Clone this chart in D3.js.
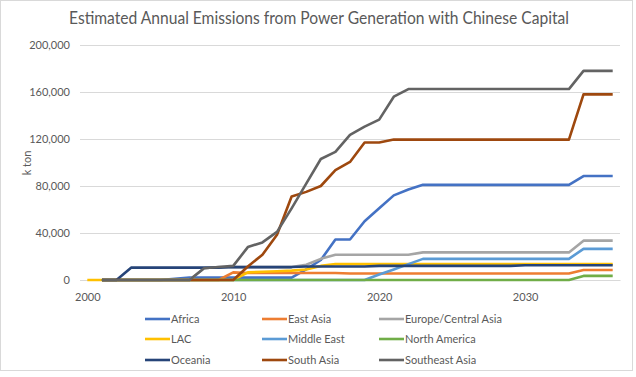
<!DOCTYPE html>
<html>
<head>
<meta charset="utf-8">
<script src="https://cdn.jsdelivr.net/npm/d3@7"></script>
<style>
  body { margin: 0; background: #fff; }
  text { font-family: Lato, "Open Sans", sans-serif; fill: #595959; }
</style>
</head>
<body>
<div class="container"></div>
<script>
// years on the category axis
const years = [2000, 2001, 2002, 2003, 2004, 2005, 2006, 2007, 2008, 2009,
  2010, 2011, 2012, 2013, 2014, 2015, 2016, 2017, 2018, 2019,
  2020, 2021, 2022, 2023, 2024, 2025, 2026, 2027, 2028, 2029,
  2030, 2031, 2032, 2033, 2034, 2035, 2036];
const xTickLabels = [2000, 2010, 2020, 2030];
const yTicks = [0, 40000, 80000, 120000, 160000, 200000];

const regions = ["Africa", "East Asia", "Europe/Central Asia", "LAC", "Middle East",
  "North America", "Oceania", "South Asia", "Southeast Asia"];
const colors = ["#4472C4", "#ED7D31", "#A5A5A5", "#FFC000", "#5B9BD5",
  "#70AD47", "#264478", "#9E480E", "#636363"];

// k ton per year, 2000..2036
const africa = [null, 0, 0, 0, 0, 0, 1000, 2000, 2000, 2000,
  2000, 2000, 2000, 2000, 2000, 9000, 17000, 34500, 34500, 50000,
  61000, 72000, 77000, 81000, 81000, 81000, 81000, 81000, 81000, 81000,
  81000, 81000, 81000, 81000, 88500, 88500, 88500];
const eastAsia = [null, 0, 0, 0, 0, 0, 0, 0, 0, 0,
  6500, 6000, 6000, 6000, 6000, 6000, 6000, 6000, 5500, 5500,
  5500, 5500, 5500, 5500, 5500, 5500, 5500, 5500, 5500, 5500,
  5500, 5500, 5500, 5500, 8500, 8500, 8500];
const europe = [null, 0, 0, 0, 0, 0, 0, 0, 10000, 11000,
  11000, 11000, 11000, 11000, 11000, 13000, 18000, 21500, 21500, 21500,
  21500, 21500, 21500, 23500, 23500, 23500, 23500, 23500, 23500, 23500,
  23500, 23500, 23500, 23500, 33500, 33500, 33500];
const lac = [0, 0, 0, 0, 0, 0, 0, 0, 0, 0,
  0, 6500, 7000, 7500, 8000, 9000, 12000, 13500, 13500, 13500,
  13500, 13500, 13500, 13500, 13500, 13500, 13500, 13500, 13500, 13500,
  13500, 13500, 13500, 13500, 13500, 13500, 13500];
const middleEast = [null, 0, 0, 0, 0, 0, 0, 0, 0, 0,
  0, 0, 0, 0, 0, 0, 0, 0, 0, 0,
  4700, 9000, 13500, 18000, 18000, 18000, 18000, 18000, 18000, 18000,
  18000, 18000, 18000, 18000, 26500, 26500, 26500];
const northAmerica = [null, 0, 0, 0, 0, 0, 0, 0, 0, 0,
  0, 0, 0, 0, 0, 0, 0, 0, 0, 0,
  0, 0, 0, 0, 0, 0, 0, 0, 0, 0,
  0, 0, 0, 0, 3500, 3500, 3500];
const oceania = [null, 0, 0, 10500, 10500, 10500, 10500, 10500, 10500, 10500,
  11000, 11000, 11000, 11000, 11000, 11500, 11500, 11500, 11500, 11500,
  12000, 12000, 12000, 12000, 12000, 12000, 12000, 12000, 12000, 12000,
  12500, 12500, 12500, 12500, 12500, 12500, 12500];
const southAsia = [null, 0, 0, 0, 0, 0, 0, 0, 0, 0,
  0, 11500, 21500, 38500, 71000, 75000, 80000, 93500, 100500, 117000,
  117000, 119500, 119500, 119500, 119500, 119500, 119500, 119500, 119500, 119500,
  119500, 119500, 119500, 119500, 158000, 158000, 158000];
const southeastAsia = [null, 0, 0, 0, 0, 0, 0, 0, 10000, 11000,
  12000, 28000, 32000, 41000, 61000, 82000, 103000, 109000, 123500, 130500,
  136500, 156000, 162500, 162500, 162500, 162500, 162500, 162500, 162500, 162500,
  162500, 162500, 162500, 162500, 178000, 178000, 178000];

const seriesValues = [africa, eastAsia, europe, lac, middleEast,
  northAmerica, oceania, southAsia, southeastAsia];

const W = 636, H = 377;
const plot = { left: 80, right: 620, top: 45, bottom: 280 };

const svg = d3
  .select(".container")
  .append("svg")
  .attr("width", W)
  .attr("height", H);

// chart border
svg.append("rect")
  .attr("x", 0.5).attr("y", 0.5)
  .attr("width", 632).attr("height", 370)
  .attr("fill", "#fff")
  .attr("stroke", "#d9d9d9");

const xScale = d3.scalePoint()
  .domain(years)
  .range([plot.left, plot.right])
  .padding(0.5);

const yScale = d3.scaleLinear()
  .domain([0, 200000])
  .range([plot.bottom, plot.top]);

// title
svg.append("text")
  .attr("x", 319)
  .attr("y", 24)
  .attr("text-anchor", "middle")
  .attr("textLength", 500)
  .attr("lengthAdjust", "spacingAndGlyphs")
  .style("font-size", "17px")
  .text("Estimated Annual Emissions from Power Generation with Chinese Capital");

// gridlines + y labels
const yAxis = d3.axisLeft(yScale)
  .tickValues(yTicks)
  .tickSize(-(plot.right - plot.left))
  .tickPadding(10)
  .tickFormat(d3.format(","));

svg.append("g")
  .attr("transform", `translate(${plot.left},0)`)
  .call(yAxis)
  .call((g) => g.select(".domain").remove())
  .call((g) => g.selectAll("line").attr("stroke", "#d9d9d9"))
  .call((g) => g.selectAll("text").style("font-size", "11px").attr("fill", "#595959"));

// x axis labels
const xAxis = d3.axisBottom(xScale)
  .tickValues(xTickLabels)
  .tickSize(0)
  .tickPadding(13);

svg.append("g")
  .attr("transform", `translate(0,${plot.bottom})`)
  .call(xAxis)
  .call((g) => g.select(".domain").attr("stroke", "#d9d9d9"))
  .call((g) => g.selectAll("text").style("font-size", "11px").attr("fill", "#595959"));

// y axis title
svg.append("text")
  .attr("transform", "rotate(-90)")
  .attr("x", -163)
  .attr("y", 31)
  .attr("text-anchor", "middle")
  .style("font-size", "11px")
  .text("k ton");

// lines
const line = d3.line()
  .defined((d) => d.v !== null)
  .x((d) => xScale(d.year))
  .y((d) => yScale(d.v));

regions.forEach((name, i) => {
  const pts = years.map((year, j) => ({ year: year, v: seriesValues[i][j] }));
  svg.append("path")
    .datum(pts)
    .attr("fill", "none")
    .attr("stroke", colors[i])
    .attr("stroke-width", 2.6)
    .attr("stroke-linejoin", "round")
    .attr("d", line);
});

// legend, 3 columns
const legendX = [145, 262, 379];
const legendY = [319, 339, 360];

const legend = svg.selectAll(".legend")
  .data(regions)
  .join("g")
  .attr("class", "legend")
  .attr("transform", (d, i) => `translate(${legendX[i % 3]},${legendY[Math.floor(i / 3)]})`);

legend.append("line")
  .attr("x1", 0).attr("x2", 25)
  .attr("stroke", (d, i) => colors[i])
  .attr("stroke-width", 2.6);

legend.append("text")
  .attr("x", 26)
  .attr("dy", "0.35em")
  .style("font-size", "11px")
  .text((d) => d);
</script>
</body>
</html>
